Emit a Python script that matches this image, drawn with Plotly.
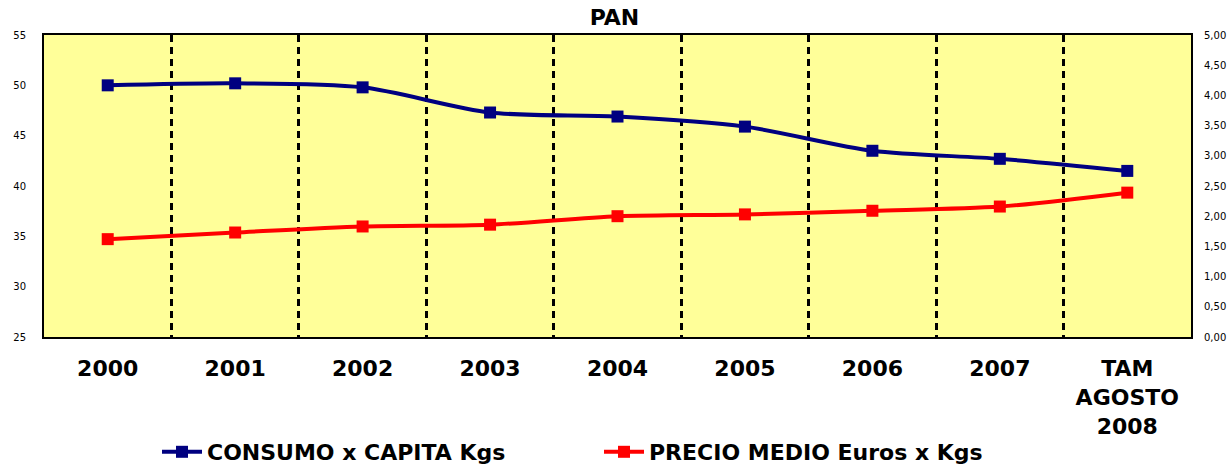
import plotly.graph_objects as go

categories = ["2000", "2001", "2002", "2003", "2004", "2005", "2006", "2007", "TAM<br>AGOSTO<br>2008"]
consumo = [50.0, 50.2, 49.8, 47.3, 46.9, 45.9, 43.5, 42.7, 41.5]
precio = [1.62, 1.73, 1.83, 1.86, 2.00, 2.03, 2.09, 2.16, 2.39]
left_ticks = [25, 30, 35, 40, 45, 50, 55]
right_ticks = [0, 0.5, 1, 1.5, 2, 2.5, 3, 3.5, 4, 4.5, 5]

FONT = "DejaVu Sans, Verdana, Arial"
W, H = 1229, 466

fig = go.Figure()
fig.add_trace(go.Scatter(
    x=categories, y=consumo, name="<b>CONSUMO x CAPITA Kgs</b>",
    mode="lines+markers", line=dict(color="#000080", width=4, shape="spline", smoothing=0.8),
    marker=dict(symbol="square", size=12, color="#000080"), yaxis="y"))
fig.add_trace(go.Scatter(
    x=categories, y=precio, name="<b>PRECIO MEDIO Euros x Kgs</b>",
    mode="lines+markers", line=dict(color="#FF0000", width=4, shape="spline", smoothing=0.8),
    marker=dict(symbol="square", size=12, color="#FF0000"), yaxis="y2"))

fig.update_layout(
    width=W, height=H,
    margin=dict(l=44, r=38, t=35, b=129),
    paper_bgcolor="white", plot_bgcolor="#FFFF99",
    title=dict(text="<b>PAN</b>", x=0.5, xanchor="center", y=(H - 17) / H, yanchor="middle",
               font=dict(family=FONT, size=22, color="black")),
    xaxis=dict(type="category", tickson="boundaries", showgrid=True, gridcolor="black",
               griddash="7px,5px", gridwidth=2.5, ticks="", showline=True, linecolor="black",
               linewidth=2, mirror=True, range=[-0.5, 8.5], automargin=False,
               tickfont=dict(family=FONT, size=22, color="black"),
               tickprefix="<b>", ticksuffix="</b>", ticklabelstandoff=11),
    yaxis=dict(range=[25, 55], tickvals=left_ticks, showgrid=False, zeroline=False,
               showline=True, linecolor="black", linewidth=2, ticks="", automargin=False,
               tickfont=dict(family=FONT, size=10, color="black"),
               tickprefix="<b>", ticksuffix="</b>", ticklabelstandoff=14),
    yaxis2=dict(range=[0, 5], tickvals=right_ticks, overlaying="y", side="right",
                showgrid=False, zeroline=False, tickformat=".2f", ticks="", automargin=False,
                showline=True, linecolor="black", linewidth=2,
                tickfont=dict(family=FONT, size=10, color="black"),
                tickprefix="<b>", ticksuffix="</b>", ticklabelstandoff=9),
    separators=",.",
    showlegend=True,
    legend=dict(orientation="h", xref="container", yref="container",
                x=157 / W, xanchor="left", y=14 / H, yanchor="middle",
                font=dict(family=FONT, size=22, color="black"),
                itemwidth=40, traceorder="normal", entrywidth=387),
)

fig.write_html(
    "out.html",
    config={"displayModeBar": False},
    post_script="document.body.style.margin='0';document.body.style.overflow='hidden';",
)
